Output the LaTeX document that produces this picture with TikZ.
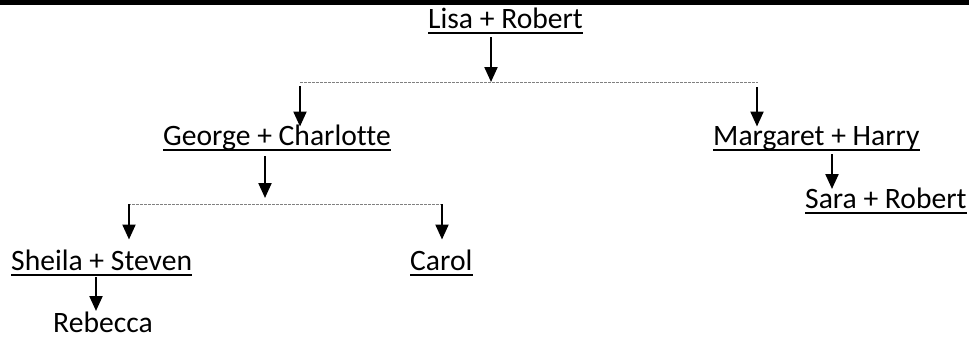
\documentclass[tikz,border=0pt]{standalone}
\usepackage{fontspec}
\setmainfont{Carlito}[Ligatures={NoCommon}]
\usetikzlibrary{arrows.meta}
\begin{document}
\begin{tikzpicture}[x=1pt,y=-1pt,
  person/.style={anchor=base west,inner sep=0pt,font=\fontsize{29.6}{34}\selectfont},
  uline/.style={line width=2pt},
  arr/.style={line width=2.2pt,-{Triangle[width=13pt,length=15pt]}},
  bar/.style={draw=gray,line width=1pt,dash pattern=on 3pt off 1pt}]
\useasboundingbox (0,0) rectangle (969,338);
\fill[black] (0,0) rectangle (969,4.5);
% people
\node[person] (lisa) at (428,28) {Lisa + Robert};
\node[person] (george) at (163,145.5) {George + Charlotte};
\node[person] (margaret) at (713,145.5) {Margaret + Harry};
\node[person] (sara) at (805,208) {Sara + Robert};
\node[person] (sheila) at (11,270.5) {Sheila + Steven};
\node[person] (carol) at (410,270.5) {Carol};
\node[person] (rebecca) at (53,332) {Rebecca};
\foreach \n in {lisa,george,margaret,sara,sheila,carol}
  \draw[uline] ([yshift=-4.5pt]\n.base west) -- ([yshift=-4.5pt]\n.base east);
% first generation
\coordinate (b1l) at (300,82);
\coordinate (b1r) at (758,82);
\coordinate (b1m) at (491,82);
\draw[bar] (b1l) -- (b1r);
\draw[arr] ([yshift=-9pt]lisa.base -| b1m) -- (b1m);
\coordinate (g1) at (300,86);
\coordinate (m1) at (757,87);
\draw[arr] (g1) -- ([yshift=19pt]george.base -| g1);
\draw[arr] (m1) -- ([yshift=19pt]margaret.base -| m1);
% Margaret -> Sara
\coordinate (s1) at (832,154);
\draw[arr] (s1) -- ([yshift=19pt]sara.base -| s1);
% second generation
\coordinate (b2l) at (128,204);
\coordinate (b2r) at (443,204);
\coordinate (b2m) at (265,198);
\draw[bar] (b2l) -- (b2r);
\draw[arr] ([yshift=-10.5pt]george.base -| b2m) -- (b2m);
\coordinate (sh1) at (129,204);
\coordinate (c1) at (442,204);
\draw[arr] (sh1) -- ([yshift=31pt]sheila.base -| sh1);
\draw[arr] (c1) -- ([yshift=31pt]carol.base -| c1);
% Sheila -> Rebecca
\coordinate (r1) at (96,277);
\draw[arr] (r1) -- ([yshift=21pt]rebecca.base -| r1);
\end{tikzpicture}
\end{document}
